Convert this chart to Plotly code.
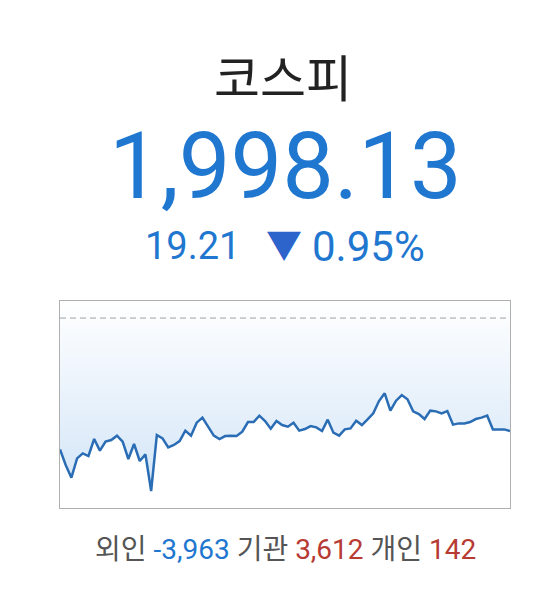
import plotly.graph_objects as go

# ==================== DATA ====================
TITLE = "코스피"
CURRENT = "1,998.13"
CHANGE = "19.21"
CHANGE_PCT = "0.95%"
PREV_CLOSE = 2017.34

# intraday index values
prices = [
    1995.01, 1992.35, 1990.19, 1993.48, 1994.33, 1993.88, 1996.77, 1994.79,
    1996.32, 1996.60, 1997.34, 1996.32, 1993.37, 1995.92, 1993.03, 1994.16,
    1987.93, 1997.45, 1996.88, 1995.35, 1995.75, 1996.43, 1998.19, 1997.34,
    1999.55, 2000.40, 1998.87, 1997.34, 1996.77, 1997.28, 1997.34, 1997.28,
    1998.02, 1999.66, 1999.66, 2000.74, 1999.83, 1998.53, 1999.83, 1999.15,
    1998.87, 1999.55, 1998.19, 1998.47, 1998.98, 1998.75, 1998.13, 2000.06,
    1997.85, 1997.34, 1998.41, 1998.58, 1999.89, 1999.15, 2000.11, 2001.13,
    2003.23, 2004.54, 2001.59, 2003.29, 2004.25, 2003.52, 2001.47, 2001.02,
    2000.17, 2001.59, 2001.47, 2001.13, 2001.53, 1999.21, 1999.43, 1999.43,
    1999.66, 2000.17, 2000.40, 2000.74, 1998.41, 1998.41, 1998.41, 1998.13,
]
ticks = list(range(len(prices)))

investors = ["외인", "기관", "개인"]
investor_net = ["-3,963", "3,612", "142"]

# ==================== STYLE ====================
W, H = 548, 612
PLOT_L, PLOT_R, PLOT_T, PLOT_B = 60, 510, 301, 508
Y_MIN, Y_MAX = 1985.04, 2020.24
BLUE = '#1f77d0'
LINE_BLUE = '#2a6db5'
RED = '#b73a33'
GRAY = '#555555'
FONT = 'Roboto, Noto Sans CJK KR, sans-serif'


def py(pix):
    """pixel row -> paper y"""
    return (PLOT_B - pix) / (PLOT_B - PLOT_T)


def px_(pix):
    """pixel column -> paper x"""
    return (pix - PLOT_L) / (PLOT_R - PLOT_L)


fig = go.Figure()

# invisible upper bound for the fill
fig.add_trace(go.Scatter(
    x=ticks, y=[Y_MAX] * len(ticks), mode='lines',
    line=dict(width=0, color='rgba(0,0,0,0)'), hoverinfo='skip', showlegend=False
))

fig.add_trace(go.Scatter(
    x=ticks, y=prices, mode='lines',
    line=dict(color=LINE_BLUE, width=2.5),
    fill='tonexty',
    fillgradient=dict(
        type='vertical',
        colorscale=[[0, '#cfe3f7'], [1, '#ffffff']],
        start=Y_MIN, stop=Y_MAX,
    ),
    showlegend=False,
    hovertemplate="%{y:.2f}<extra></extra>"
))

fig.add_hline(y=PREV_CLOSE, line=dict(color='#a0a0a0', width=1, dash='6px,4px'))

ann = []
ann.append(dict(text=TITLE, x=px_(283), y=py(80), font=dict(size=50, color='#222222')))
ann.append(dict(text=CURRENT, x=px_(285), y=py(166), font=dict(size=92, color=BLUE)))
ann.append(dict(text=CHANGE, x=px_(192), y=py(246), font=dict(size=38, color=BLUE)))
ann.append(dict(text="▼", x=px_(284), y=py(247), font=dict(size=36, color='#2d64cc')))
ann.append(dict(text=CHANGE_PCT, x=px_(368), y=py(246), font=dict(size=42, color=BLUE)))

colors = [BLUE, RED, RED]
parts = []
for name, val, c in zip(investors, investor_net, colors):
    parts.append(f"<span style='color:{GRAY}'>{name}</span> <span style='color:{c}'>{val}</span>")
ann.append(dict(text=" ".join(parts), x=px_(285), y=py(549), font=dict(size=28, color=GRAY)))

for a in ann:
    a.update(xref='paper', yref='paper', showarrow=False, xanchor='center', yanchor='middle')
    a['font']['family'] = FONT

fig.update_layout(
    width=W, height=H,
    margin=dict(l=PLOT_L, r=W - PLOT_R, t=PLOT_T, b=H - PLOT_B, pad=0),
    paper_bgcolor='white',
    plot_bgcolor='white',
    annotations=ann,
    xaxis=dict(range=[0, len(prices) - 1], showgrid=False, zeroline=False, showticklabels=False,
               ticks='', showline=True, mirror=True, linecolor='#b0b0b0', linewidth=1),
    yaxis=dict(range=[Y_MIN, Y_MAX], showgrid=False, zeroline=False, showticklabels=False,
               ticks='', showline=True, mirror=True, linecolor='#b0b0b0', linewidth=1),
    font=dict(family=FONT),
    hovermode='closest',
)

# drop the default page margin so the figure sits at the window's corner
fig.write_html("out.html", config={'displayModeBar': False},
               post_script="document.body.style.margin='0';")
